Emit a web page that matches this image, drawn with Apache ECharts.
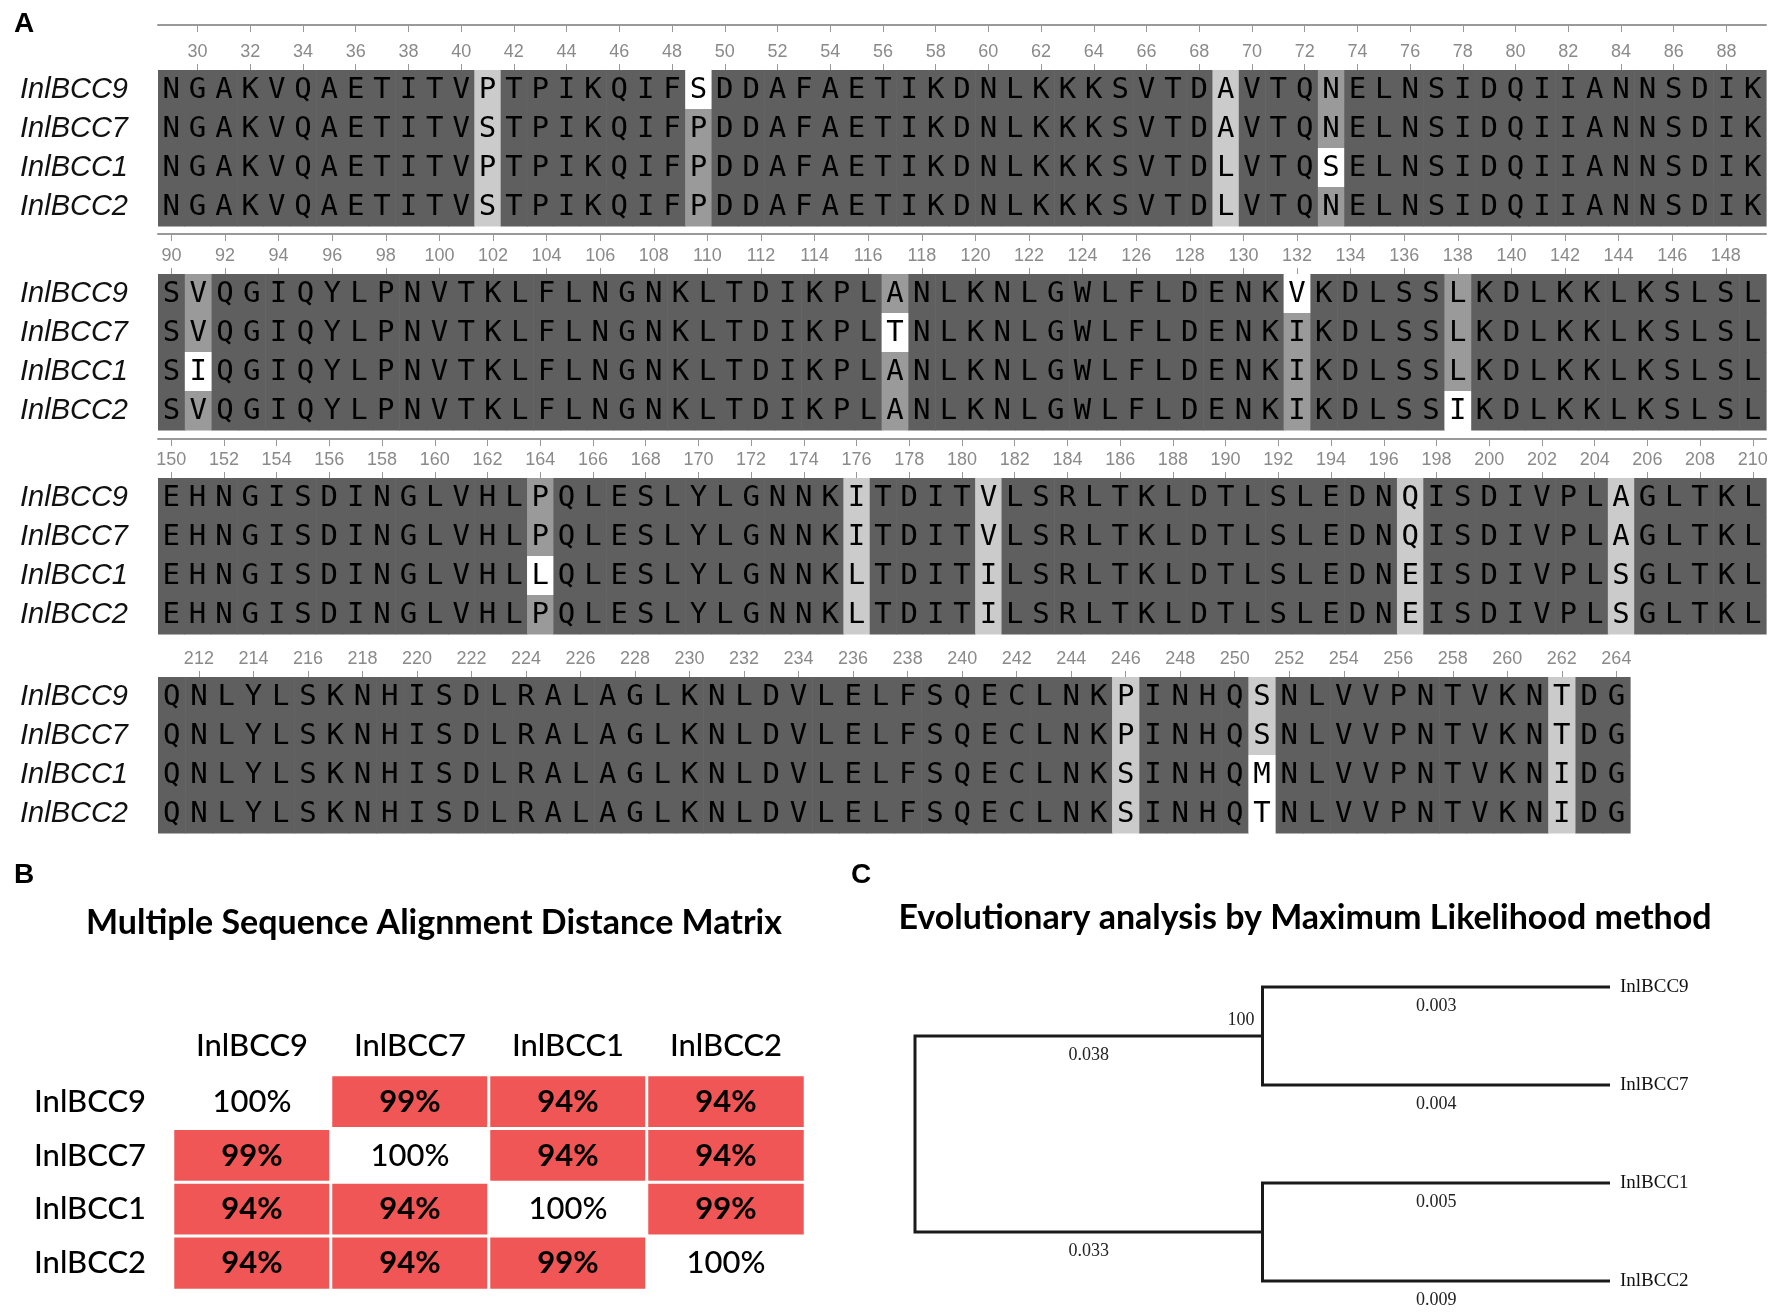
<!DOCTYPE html>
<html>
<head>
<meta charset="utf-8">
<script src="https://cdn.jsdelivr.net/npm/echarts@6/dist/echarts.min.js"></script>
<style>html,body{margin:0;padding:0;background:#fff}#main{width:1775px;height:1312px}</style>
</head>
<body>
<div id="main"></div>
<script>
// sequence names, row order top to bottom
const names = ['InlBCC9', 'InlBCC7', 'InlBCC1', 'InlBCC2'];
// first residue number of each alignment block
const blockStart = [29, 90, 150, 211];

const seqInlBCC9 = [
    'NGAKVQAETITVPTPIKQIFSDDAFAETIKDNLKKKSVTDAVTQNELNSIDQIIANNSDIK',
    'SVQGIQYLPNVTKLFLNGNKLTDIKPLANLKNLGWLFLDENKVKDLSSLKDLKKLKSLSL',
    'EHNGISDINGLVHLPQLESLYLGNNKITDITVLSRLTKLDTLSLEDNQISDIVPLAGLTKL',
    'QNLYLSKNHISDLRALAGLKNLDVLELFSQECLNKPINHQSNLVVPNTVKNTDG'
]
const seqInlBCC7 = [
    'NGAKVQAETITVSTPIKQIFPDDAFAETIKDNLKKKSVTDAVTQNELNSIDQIIANNSDIK',
    'SVQGIQYLPNVTKLFLNGNKLTDIKPLTNLKNLGWLFLDENKIKDLSSLKDLKKLKSLSL',
    'EHNGISDINGLVHLPQLESLYLGNNKITDITVLSRLTKLDTLSLEDNQISDIVPLAGLTKL',
    'QNLYLSKNHISDLRALAGLKNLDVLELFSQECLNKPINHQSNLVVPNTVKNTDG'
]
const seqInlBCC1 = [
    'NGAKVQAETITVPTPIKQIFPDDAFAETIKDNLKKKSVTDLVTQSELNSIDQIIANNSDIK',
    'SIQGIQYLPNVTKLFLNGNKLTDIKPLANLKNLGWLFLDENKIKDLSSLKDLKKLKSLSL',
    'EHNGISDINGLVHLLQLESLYLGNNKLTDITILSRLTKLDTLSLEDNEISDIVPLSGLTKL',
    'QNLYLSKNHISDLRALAGLKNLDVLELFSQECLNKSINHQMNLVVPNTVKNIDG'
]
const seqInlBCC2 = [
    'NGAKVQAETITVSTPIKQIFPDDAFAETIKDNLKKKSVTDLVTQNELNSIDQIIANNSDIK',
    'SVQGIQYLPNVTKLFLNGNKLTDIKPLANLKNLGWLFLDENKIKDLSSIKDLKKLKSLSL',
    'EHNGISDINGLVHLPQLESLYLGNNKLTDITILSRLTKLDTLSLEDNEISDIVPLSGLTKL',
    'QNLYLSKNHISDLRALAGLKNLDVLELFSQECLNKSINHQTNLVVPNTVKNIDG'
]

// distance matrix (identity %)
const matrixNames = ['InlBCC9', 'InlBCC7', 'InlBCC1', 'InlBCC2'];
const identity = [
    [100, 99, 94, 94],
    [99, 100, 94, 94],
    [94, 94, 100, 99],
    [94, 94, 99, 100]
]

// ML tree
const treeLeaves = ['InlBCC9', 'InlBCC7', 'InlBCC1', 'InlBCC2'];
const leafClade = [0, 0, 1, 1];
const leafBranchLength = [0.003, 0.004, 0.005, 0.009];
const cladeBranchLength = [0.038, 0.033];
const cladeBootstrap = ['100', ''];

const seqs = [seqInlBCC9, seqInlBCC7, seqInlBCC1, seqInlBCC2];

// block boxes (pixels)
const blockTop = [70, 274, 478, 677];
const blockWidth = [1608, 1608, 1608, 1472];
const rulerOffset = [45, 40, 39, 0];

// shade by how many sequences share the residue in that column
const shadeColor = {4: '#5f5f5f', 3: '#9a9a9a', 2: '#cbcbcb', 1: '#ffffff'};

const evenPos = (i, v) => Number(v) % 2 === 0;

const grids = [], xAxes = [], yAxes = [], series = [];

blockStart.forEach((start, b) => {
    const len = seqs[0][b].length;
    const cats = [];
    for (let i = 0; i < len; i++) cats.push(String(start + i));
    grids.push({left: 158, top: blockTop[b], width: blockWidth[b], height: 156});
    xAxes.push({
        gridIndex: b, type: 'category', data: cats, position: 'top',
        axisLine: {show: false},
        axisTick: {show: true, alignWithLabel: true, interval: evenPos, length: 6, lineStyle: {color: '#999'}},
        axisLabel: {interval: evenPos, color: '#8a8a8a', fontFamily: 'Liberation Sans', fontSize: 18, margin: 9},
        splitLine: {show: false}
    })
    xAxes.push({
        gridIndex: b, type: 'category', data: cats, position: 'top', offset: rulerOffset[b],
        show: rulerOffset[b] > 0,
        axisLine: {show: true, lineStyle: {color: '#999', width: 2}},
        axisTick: {show: true, inside: true, alignWithLabel: true, interval: evenPos, length: 7, lineStyle: {color: '#999'}},
        axisLabel: {show: false},
        splitLine: {show: false}
    })
    yAxes.push({
        gridIndex: b, type: 'category', data: names, inverse: true,
        axisLine: {show: false}, axisTick: {show: false},
        axisLabel: {align: 'left', margin: 138, fontFamily: 'Liberation Sans', fontStyle: 'italic', fontSize: 29, color: '#111'}
    })
    const cells = [];
    seqs.forEach((s, r) => {
        const str = s[b];
        for (let i = 0; i < str.length; i++) {
            const n = seqs.filter(o => o[b][i] === str[i]).length;
            cells.push([i, r, str[i], n]);
        }
    })
    series.push({
        type: 'custom', xAxisIndex: 2 * b, yAxisIndex: b, silent: true,
        data: cells.map(c => [c[0], c[1]]),
        encode: {x: 0, y: 1},
        renderItem(params, api) {
            const cell = cells[params.dataIndex];
            const p = api.coord([cell[0], cell[1]]);
            const sz = api.size([1, 1]);
            return {
                type: 'group',
                children: [
                    {type: 'rect', shape: {x: p[0] - sz[0] / 2, y: p[1] - sz[1] / 2, width: sz[0] + 0.6, height: sz[1] + 0.6},
                        style: {fill: shadeColor[cell[3]]}},
                    {type: 'text', style: {text: cell[2], x: p[0], y: p[1] + 1, textAlign: 'center', textVerticalAlign: 'middle',
                        font: '29px "DejaVu Sans Mono"', fill: '#000'}}
                ]
            }
        }
    })
})

// panel B heatmap
grids.push({left: 173, top: 1075, width: 632, height: 215});
xAxes.push({
    gridIndex: 4, type: 'category', data: matrixNames, position: 'top',
    axisLine: {show: false}, axisTick: {show: false}, splitLine: {show: false},
    axisLabel: {fontFamily: 'Lato', fontSize: 31, fontWeight: 500, color: '#000', margin: 14}
})
yAxes.push({
    gridIndex: 4, type: 'category', data: matrixNames, inverse: true,
    axisLine: {show: false}, axisTick: {show: false}, splitLine: {show: false},
    axisLabel: {align: 'left', margin: 139, fontFamily: 'Lato', fontSize: 31, fontWeight: 500, color: '#000'}
})
const heatData = [];
identity.forEach((row, r) => row.forEach((v, c) => heatData.push([c, r, v])));
series.push({
    type: 'heatmap', xAxisIndex: 8, yAxisIndex: 4, data: heatData,
    itemStyle: {borderColor: '#fff', borderWidth: 3},
    label: {
        show: true,
        formatter: p => p.value[2] === 100 ? '{n|' + p.value[2] + '%}' : '{b|' + p.value[2] + '%}',
        rich: {
            n: {fontFamily: 'Lato', fontSize: 31, fontWeight: 500, color: '#000'},
            b: {fontFamily: 'Lato', fontSize: 31, fontWeight: 'bold', color: '#000'}
        }
    },
    emphasis: {disabled: true}
})

// panel C tree
grids.push({left: 915, top: 987, width: 695, height: 294});
xAxes.push({gridIndex: 5, type: 'value', min: 0, max: 2, show: false});
yAxes.push({gridIndex: 5, type: 'value', min: 0, max: 3, inverse: true, show: false});
const cladeY = cladeBranchLength.map((_, k) => {
    const ys = leafClade.map((c, i) => c === k ? i : null).filter(v => v !== null);
    return ys.reduce((a, v) => a + v, 0) / ys.length;
})
const rootY = cladeY.reduce((a, v) => a + v, 0) / cladeY.length;
const branches = [];
cladeBranchLength.forEach((l, k) => branches.push([0, 1, rootY, cladeY[k], l.toFixed(3), cladeBootstrap[k], '']));
treeLeaves.forEach((n, i) => branches.push([1, 2, cladeY[leafClade[i]], i, leafBranchLength[i].toFixed(3), '', n]));
series.push({
    type: 'custom', xAxisIndex: 9, yAxisIndex: 5, silent: true,
    data: branches.map(b => [b[0], b[1], b[2], b[3]]),
    encode: {x: [0, 1], y: [2, 3]},
    renderItem(params, api) {
        const br = branches[params.dataIndex];
        const p0 = api.coord([br[0], br[2]]);
        const pc = api.coord([br[0], br[3]]);
        const p1 = api.coord([br[1], br[3]]);
        const font = '18px "Liberation Serif"';
        const kids = [
            {type: 'polyline', shape: {points: [p0, pc, p1]}, style: {stroke: '#1a1a1a', lineWidth: 3, fill: null}},
            {type: 'text', style: {text: br[4], x: (pc[0] + p1[0]) / 2, y: p1[1] + 19, textAlign: 'center', textVerticalAlign: 'middle', font: font, fill: '#222'}}
        ]
        if (br[5]) kids.push({type: 'text', style: {text: br[5], x: p1[0] - 8, y: p1[1] - 16, textAlign: 'right', textVerticalAlign: 'middle', font: font, fill: '#222'}});
        if (br[6]) kids.push({type: 'text', style: {text: br[6], x: p1[0] + 10, y: p1[1], textAlign: 'left', textVerticalAlign: 'middle', font: '19px "Liberation Serif"', fill: '#111'}});
        return {type: 'group', children: kids};
    }
})

const letter = {fontFamily: 'Liberation Sans', fontWeight: 'bold', fontSize: 28, color: '#000'};
const option = {
    backgroundColor: '#fff',
    animation: false,
    title: [
        {text: 'A', left: 14, top: 10, padding: 0, textStyle: letter},
        {text: 'B', left: 14, top: 861, padding: 0, textStyle: letter},
        {text: 'C', left: 851, top: 861, padding: 0, textStyle: letter},
        {text: 'Multiple Sequence Alignment Distance Matrix', left: 434, top: 906, padding: 0, textAlign: 'center',
            textStyle: {fontFamily: 'Lato', fontWeight: 'bold', fontSize: 34, color: '#000'}},
        {text: 'Evolutionary analysis by Maximum Likelihood method', left: 1305, top: 901, padding: 0, textAlign: 'center',
            textStyle: {fontFamily: 'Lato', fontWeight: 'bold', fontSize: 34, color: '#000'}}
    ],
    visualMap: {
        type: 'piecewise', show: false, seriesIndex: 4, dimension: 2,
        pieces: [{min: 100, max: 100, color: '#ffffff'}, {lt: 100, color: '#f05656'}]
    },
    grid: grids,
    xAxis: xAxes,
    yAxis: yAxes,
    series: series
}

const myChart = echarts.init(document.getElementById('main'));
myChart.setOption(option);
</script>
</body>
</html>
